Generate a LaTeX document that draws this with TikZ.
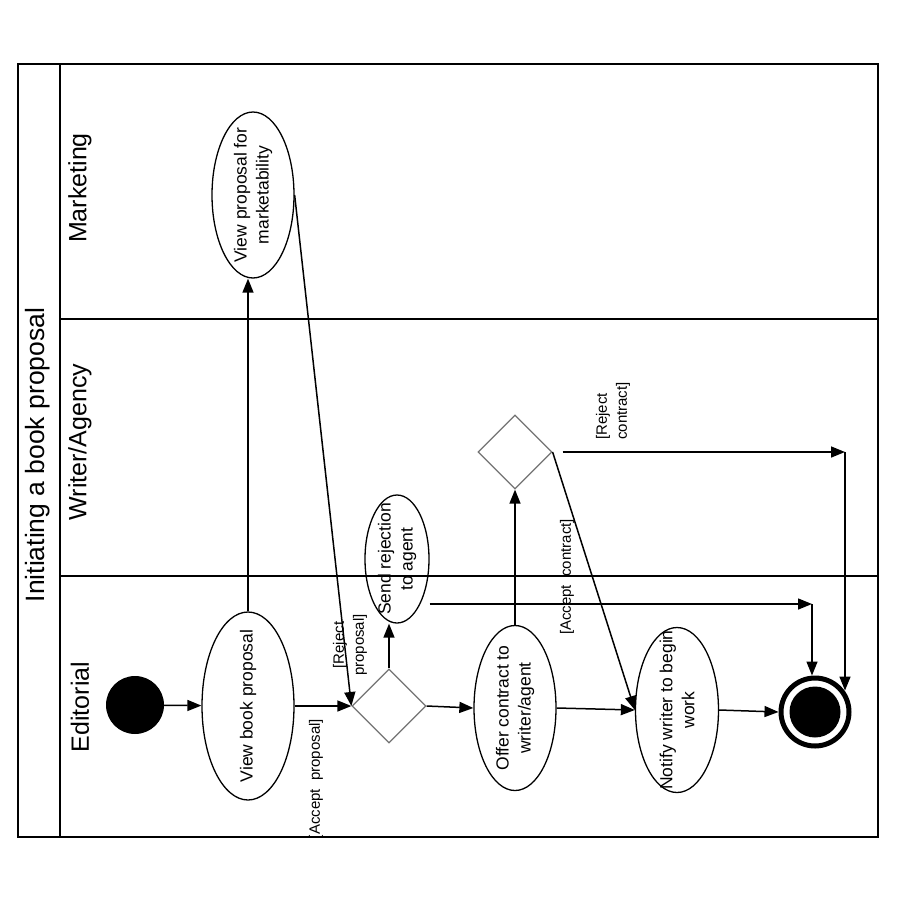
\documentclass[tikz,border=0pt]{standalone}
\usepackage{fontspec}
\setmainfont{Liberation Sans}
\usetikzlibrary{shapes.geometric,arrows.meta}
\begin{document}
\begin{tikzpicture}[x=1pt,y=-1pt,
  frame/.style={line width=2.4pt},
  actv/.style={ellipse, draw, line width=1.3pt, inner sep=0pt},
  acttext/.style={rotate=90, align=center, inner sep=0pt, font=\fontsize{17.5}{22}\selectfont},
  decision/.style={diamond, draw=black!55, line width=1.2pt, inner sep=0pt, minimum width=74, minimum height=74},
  flow/.style={line width=1.5pt, -{Triangle[length=14pt,width=11pt]}},
  guard/.style={rotate=90, inner sep=0pt, font=\fontsize{15}{20}\selectfont},
  lane/.style={rotate=90, inner sep=0pt, font=\fontsize{25}{30}\selectfont}
]
\useasboundingbox (0,0) rectangle (900,900);
\fill[white] (0,0) rectangle (900,900);

% swimlane frame
\draw[frame] (18,64) rectangle (878,837);
\draw[frame] (60,64) -- (60,837);
\draw[frame] (60,319) -- (878,319);
\draw[frame] (60,576) -- (878,576);

\node[lane, font=\fontsize{26.5}{30}\selectfont] (title) at (38,455) {Initiating a book proposal};
\node[lane] (lmkt) at (80,188) {Marketing};
\node[lane] (lwri) at (80,442) {Writer/Agency};
\node[lane] (ledi) at (80,707) {Editorial};

% activity nodes
\node[circle, fill=black, minimum size=58, inner sep=0pt] (start) at (135,705) {};

\node[actv, minimum width=92, minimum height=188] (vbp) at (248,706) {};
\node[acttext] (vbpt) at (vbp) {View book proposal};

\node[actv, minimum width=82, minimum height=166] (mkt) at (253,195) {};
\node[acttext] (mktt) at (mkt) {View proposal for\\marketability};

\node[decision] (d1) at (389,706) {};

\node[actv, minimum width=64, minimum height=128] (sr) at (397,559) {};
\node[acttext] (srt) at (sr) {Send rejection\\to agent};

\node[actv, minimum width=82, minimum height=165] (offer) at (515,708) {};
\node[acttext] (offert) at (offer) {Offer contract to\\writer/agent};

\node[decision] (d2) at (515,452) {};

\node[actv, minimum width=83, minimum height=165] (notify) at (677,710) {};
\node[acttext] (notifyt) at (notify) {Notify writer to begin\\work};

\node[circle, draw, line width=5pt, minimum size=68, inner sep=0pt] (end) at (815,712) {};
\fill (end.center) circle[radius=25.5];

% guards
\node[guard] (gap) at (316,779) {[Accept~ proposal]};
\node[guard, align=center] (grp) at (350,645) {[Reject\\proposal]};
\node[guard, align=left] (grc) at (613,411) {[Reject\\contract]};
\node[guard] (gac) at (567,577) {[Accept~ contract]};

% flows
\coordinate (c1) at (812,604);
\coordinate (c2) at (845,452);
\draw[flow] (start) -- (vbp);
\draw[flow] (vbp.north) -- (vbp.north |- mkt.south);
\draw[flow] (mkt.east) -- (d1.west);
\draw[flow] (vbp.east) -- (d1.west);
\draw[flow] (d1.north) -- (d1.north |- sr.south);
\draw[flow] (d1.east) -- (offer.west);
\draw[flow] (sr.east |- c1) -- (c1);
\draw[flow] (c1) -- (c1 |- end.north);
\draw[flow] (offer.north) -- (d2.south);
\draw[flow] ([xshift=10pt]d2.east) -- (c2);
\draw[flow] (c2) -- (c2 |- end.36);
\draw[flow] (d2.east) -- (notify.west);
\draw[flow] (offer.east) -- (notify.west);
\draw[flow] (notify.east) -- (end.west);
\end{tikzpicture}
\end{document}
